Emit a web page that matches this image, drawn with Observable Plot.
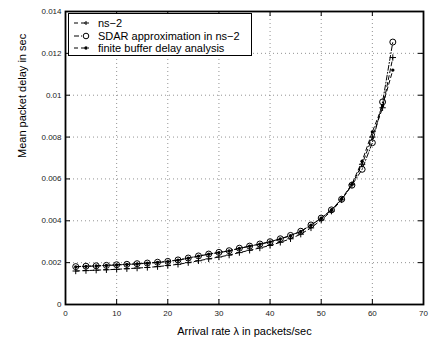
<!DOCTYPE html>
<html>
<head>
<meta charset="utf-8">
<script src="https://cdn.jsdelivr.net/npm/d3@7"></script>
<script src="https://cdn.jsdelivr.net/npm/@observablehq/plot@0.6"></script>
<style>
  html, body { margin: 0; padding: 0; background: #fff; }
  #wrap { position: relative; width: 440px; height: 344px; font-family: "Liberation Sans", Arial, sans-serif; }
  #legend { position: absolute; left: 68px; top: 13px; width: 184px; height: 43px; border: 1.5px solid #000; background: #fff; box-sizing: border-box; }
  .row { position: absolute; left: 0; height: 12px; display: flex; align-items: center; font-size: 11px; color: #000; white-space: nowrap; }
  .row svg { margin-left: 4px; margin-right: 7px; }
</style>
</head>
<body>
<div id="wrap"></div>
<script>
// Data
const rate = [2,4,6,8,10,12,14,16,18,20,22,24,26,28,30,32,34,36,38,40,42,44,46,48,50,52,54,56,58,60,62,64];
const ns2 = [0.00160,0.00162,0.00164,0.00166,0.00168,0.00171,0.00174,0.00177,0.00181,0.00186,0.00192,0.00200,0.00209,0.00218,0.00227,0.00236,0.00248,0.00259,0.00270,0.00282,0.00297,0.00314,0.00336,0.00366,0.00404,0.00446,0.00500,0.00572,0.00670,0.00800,0.00940,0.01180];
const sdar = [0.00181,0.00183,0.00185,0.00187,0.00190,0.00192,0.00195,0.00198,0.00202,0.00206,0.00213,0.00222,0.00232,0.00241,0.00249,0.00257,0.00269,0.00279,0.00289,0.00300,0.00314,0.00330,0.00350,0.00380,0.00413,0.00452,0.00503,0.00570,0.00646,0.00773,0.00968,0.01254];
const finite = [0.00180,0.00182,0.00184,0.00186,0.00189,0.00191,0.00194,0.00197,0.00201,0.00205,0.00212,0.00221,0.00231,0.00240,0.00248,0.00256,0.00268,0.00278,0.00288,0.00299,0.00313,0.00329,0.00349,0.00379,0.00412,0.00452,0.00505,0.00575,0.00685,0.00825,0.00950,0.01120];
const seriesNames = ["ns\u22122", "SDAR approximation in ns\u22122", "finite buffer delay analysis"];
const xTicks = [0,10,20,30,40,50,60,70];
const yTicks = [0,0.002,0.004,0.006,0.008,0.010,0.012,0.014];
const yTickLabels = ["0","0.002","0.004","0.006","0.008","0.01","0.012","0.014"];
const xLabel = "Arrival rate \u03bb in packets/sec";
const yLabel = "Mean packet delay in sec";

const mk = (ys) => rate.map((x, i) => ({x, y: ys[i]}));
const dNs2 = mk(ns2), dSdar = mk(sdar), dFin = mk(finite);

const xDom = [0, 70], yDom = [0, 0.014];
const mTop = 11, mBottom = 40, H = 344;
const tickLenY = (yDom[1] - yDom[0]) * 5 / (H - mTop - mBottom);
const tickLenX = (xDom[1] - xDom[0]) * 5 / (440 - 65 - 17);

const chart = Plot.plot({
  width: 440, height: H,
  marginLeft: 65, marginRight: 17, marginTop: mTop, marginBottom: mBottom,
  style: {fontFamily: "Liberation Sans, Arial, sans-serif", background: "#fff", color: "#000"},
  x: {domain: xDom},
  y: {domain: yDom},
  marks: [
    Plot.gridX(xTicks.slice(1, -1), {stroke: "#777", strokeOpacity: 1, strokeDasharray: "1,3", strokeWidth: 0.8}),
    Plot.gridY(yTicks.slice(1, -1), {stroke: "#777", strokeOpacity: 1, strokeDasharray: "1,3", strokeWidth: 0.8}),
    Plot.axisX(xTicks, {tickSize: 0, tickPadding: 6, fontSize: 8, fill: "#222", label: null}),
    Plot.axisY(yTicks, {tickSize: 0, tickPadding: 4, fontSize: 8, fill: "#222", tickFormat: (d) => yTickLabels[yTicks.indexOf(d)], label: null}),
    Plot.text([xLabel], {frameAnchor: "bottom", dy: 30, fontSize: 11, fill: "#000"}),
    Plot.text([yLabel], {frameAnchor: "left", dx: -43, rotate: -90, fontSize: 11, fill: "#000"}),
    // inward ticks
    Plot.ruleX(xTicks.slice(1, -1), {y1: yDom[0], y2: yDom[0] + tickLenY, stroke: "#000"}),
    Plot.ruleX(xTicks.slice(1, -1), {y1: yDom[1], y2: yDom[1] - tickLenY, stroke: "#000"}),
    Plot.ruleY(yTicks.slice(1, -1), {x1: xDom[0], x2: xDom[0] + tickLenX, stroke: "#000"}),
    Plot.ruleY(yTicks.slice(1, -1), {x1: xDom[1], x2: xDom[1] - tickLenX, stroke: "#000"}),
    // series
    Plot.line(dNs2, {x: "x", y: "y", stroke: "#000", strokeWidth: 1, strokeDasharray: "4,3"}),
    Plot.dot(dNs2, {x: "x", y: "y", symbol: "plus", r: 2.2, stroke: "#000", strokeWidth: 1}),
    Plot.line(dFin, {x: "x", y: "y", stroke: "#000", strokeWidth: 1, strokeDasharray: "4,3"}),
    Plot.dot(dFin, {x: "x", y: "y", r: 1.7, fill: "#000", stroke: "none"}),
    Plot.line(dSdar, {x: "x", y: "y", stroke: "#000", strokeWidth: 1, strokeDasharray: "5,2,1,2"}),
    Plot.dot(dSdar, {x: "x", y: "y", symbol: "circle", r: 3, stroke: "#000", strokeWidth: 1, fill: "none"}),
    Plot.frame({stroke: "#000", strokeWidth: 1.8})
  ]
});

const wrap = document.getElementById("wrap");
wrap.appendChild(chart);

// legend inside plot (top-left)
const legend = document.createElement("div");
legend.id = "legend";
const samples = [
  `<line x1="1" y1="6" x2="16" y2="6" stroke="#000" stroke-dasharray="4,3"/><path d="M13,4v4M11,6h4" stroke="#000" fill="none"/>`,
  `<line x1="1" y1="6" x2="16" y2="6" stroke="#000" stroke-dasharray="5,2,1,2"/><circle cx="13" cy="6" r="2.8" fill="#fff" stroke="#000"/>`,
  `<line x1="1" y1="6" x2="16" y2="6" stroke="#000" stroke-dasharray="4,3"/><circle cx="13" cy="6" r="1.7" fill="#000"/>`
];
seriesNames.forEach((name, i) => {
  const row = document.createElement("div");
  row.className = "row";
  row.style.top = (3 + i * 12.5) + "px";
  row.innerHTML = `<svg width="18" height="12">${samples[i]}</svg><span>${name}</span>`;
  legend.appendChild(row);
});
wrap.appendChild(legend);
</script>
</body>
</html>
